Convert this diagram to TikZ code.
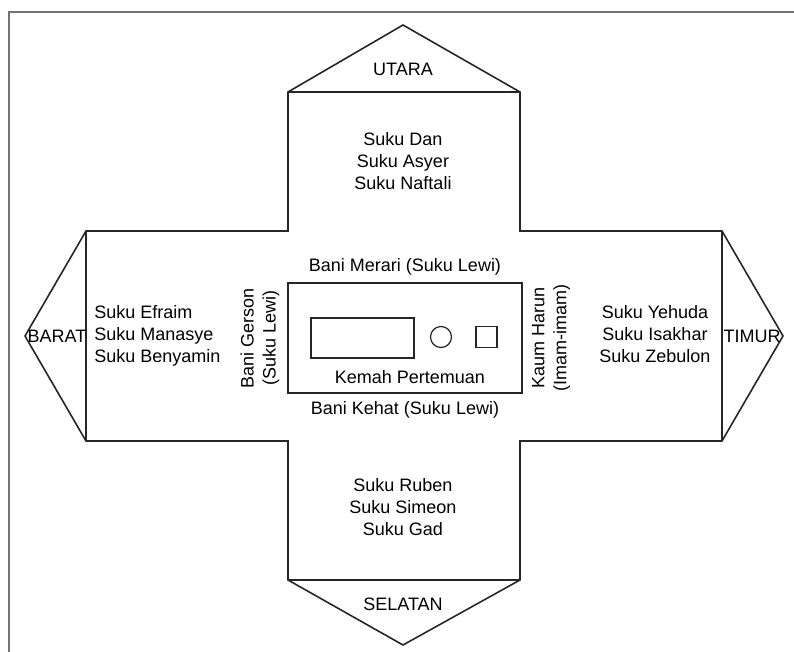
\documentclass[tikz,border=0pt]{standalone}
\usepackage{fontspec}
\setmainfont{Liberation Sans}
\usetikzlibrary{positioning}

\begin{document}
\begin{tikzpicture}[
    x=0.5pt, y=-0.5pt,
    wall/.style={draw=black!85, line width=0.8pt, line join=miter},
    frame/.style={draw=black!55, line width=0.7pt},
    tribe/.style={font=\fontsize{9}{11}\selectfont, align=center, inner sep=1pt},
    wind/.style={font=\fontsize{9}{11}\selectfont, inner sep=1pt},
    furniture/.style={draw=black!85, line width=0.6pt, inner sep=0pt},
]
\useasboundingbox (0,0) rectangle (794,652);

% Page frame
\draw[frame] (794,12) -- (9,12) -- (9,652);

% Camp outline (cross with four points)
\draw[wall] (288,92) -- (403,25) -- (520,92) -- (520,231) -- (722,231)
    -- (783,336) -- (722,441) -- (520,441) -- (520,580) -- (403,645)
    -- (288,580) -- (288,441) -- (86,441) -- (25,336) -- (86,231)
    -- (288,231) -- cycle;
\draw[wall] (288,92) -- (520,92);
\draw[wall] (288,580) -- (520,580);
\draw[wall] (86,231) -- (86,441);
\draw[wall] (722,231) -- (722,441);

% Directions
\node[wind] (utara) at (403,69) {UTARA};
\node[wind] (selatan) at (403,604) {SELATAN};
\node[wind] (barat) at (57,336) {BARAT};
\node[wind] (timur) at (752,336) {TIMUR};

% Tribes
\node[tribe] (north) at (403,161) {Suku Dan\\Suku Asyer\\Suku Naftali};
\node[tribe] (south) at (403,507) {Suku Ruben\\Suku Simeon\\Suku Gad};
\node[tribe, align=left, anchor=west] (west) at (92,336) {Suku Efraim\\Suku Manasye\\Suku Benyamin};
\node[tribe] (east) at (655,334) {Suku Yehuda\\Suku Isakhar\\Suku Zebulon};

% Tent of meeting
\node[wall, minimum width=117pt, minimum height=55pt] (tent) at (405,338) {};
\node[furniture, minimum width=51.5pt, minimum height=20pt] (ark) at (362.5,338) {};
\node[furniture, circle, minimum size=10.5pt] (basin) at (441,337) {};
\node[furniture, minimum size=10.5pt] (altar) at (486.5,337) {};
\node[tribe] (kemah) at (410,377) {Kemah Pertemuan};

% Levites round the tent
\node[tribe, above=2.5pt of tent] (merari) {Bani Merari (Suku Lewi)};
\node[tribe, below=2.5pt of tent] (kehat) {Bani Kehat (Suku Lewi)};
\node[tribe, rotate=90] (gerson) at (260,338) {Bani Gerson\\(Suku Lewi)};
\node[tribe, rotate=90] (harun) at (551,338) {Kaum Harun\\(Imam-imam)};
\end{tikzpicture}
\end{document}
